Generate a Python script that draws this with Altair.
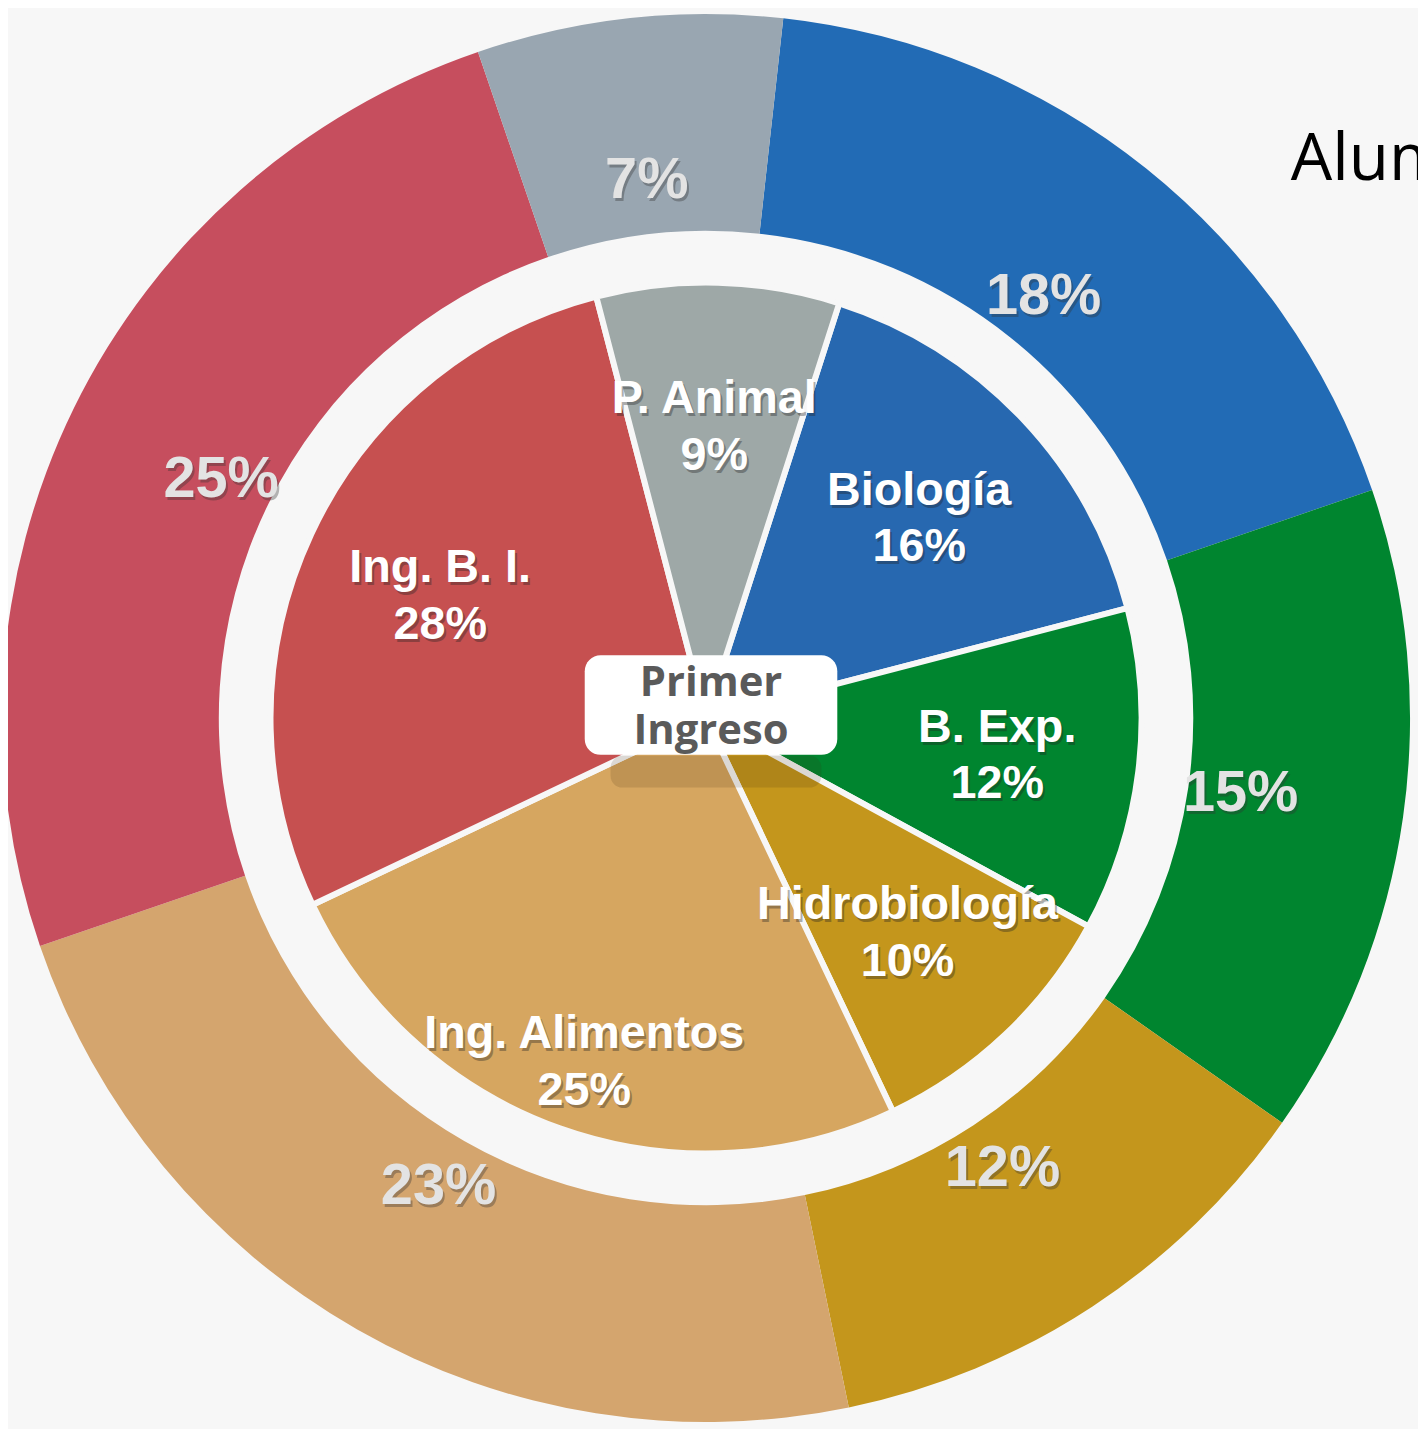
import math
import altair as alt
import pandas as pd

# ---- data -------------------------------------------------------------
carreras = ["Biología", "B. Exp.", "Hidrobiología", "Ing. Alimentos", "Ing. B. I.", "P. Animal"]
externo_pct = [18, 15, 12, 23, 25, 7]      # outer ring
interno_pct = [16, 12, 10, 25, 28, 9]      # inner pie (Primer Ingreso)
colores_externo = ["#226bb5", "#00852f", "#c4961c", "#d4a56e", "#c64e5e", "#99a6b1"]
colores_interno = ["#2768b0", "#00852f", "#c4961c", "#d6a660", "#c65050", "#9ea8a7"]
titulo = "Alumnos"
centro = "Primer\nIngreso"

W, H = 1418, 1421
CX, CY = 702, 710
BG = "#f7f7f7"

ext = pd.DataFrame({"carrera": carreras, "pct": externo_pct, "orden": list(range(len(carreras)))})
ext["etiqueta"] = ext["pct"].astype(str) + "%"
inn = pd.DataFrame({"carrera": carreras, "pct": interno_pct, "orden": list(range(len(carreras)))})
inn["etiqueta"] = inn["carrera"] + "\n" + inn["pct"].astype(str) + "%"

s_ext = math.radians(6.3)
s_inn = math.radians(17.8)


def tscale(start):
    return alt.Scale(domain=[0, 100], range=[start, start + 2 * math.pi])


def ring(df, start, colors):
    return alt.Chart(df).encode(
        theta=alt.Theta("pct:Q", stack=True, scale=tscale(start)),
        order=alt.Order("orden:Q"),
        x=alt.value(CX), y=alt.value(CY),
    ), alt.Color("carrera:N", scale=alt.Scale(domain=carreras, range=colors), legend=None)


base_e, color_e = ring(ext, s_ext, colores_externo)
outer_arc = base_e.mark_arc(outerRadius=708, innerRadius=490).encode(color=color_e)
outer_shadow = base_e.mark_text(radius=543, fontSize=58, fontWeight="bold", font="Liberation Sans",
                                color="#333333", opacity=0.35, dx=2, dy=3).encode(text="etiqueta:N")
outer_text = base_e.mark_text(radius=543, fontSize=58, fontWeight="bold", font="Liberation Sans",
                              color="#e3e3e3").encode(text="etiqueta:N")
outer_layer = alt.layer(outer_arc, outer_shadow, outer_text)

base_i, color_i = ring(inn, s_inn, colores_interno)
inner_arc = base_i.mark_arc(outerRadius=438, stroke=BG, strokeWidth=6).encode(color=color_i)


def inner_text(shadow):
    props = dict(fontSize=47, fontWeight="bold", font="Liberation Sans",
                 lineBreak="\n", lineHeight=57, dy=-26)
    if shadow:
        props.update(color="#222222", opacity=0.35, dx=2, dy=-23)
    else:
        props.update(color="white")
    return alt.Chart(inn).transform_window(
        acum="sum(pct)", sort=[alt.SortField("orden")], frame=[None, 0]
    ).transform_calculate(
        medio="datum.acum - datum.pct / 2",
        r="datum.carrera == 'Ing. Alimentos' ? 365 : 295",
    ).mark_text(**props).encode(
        theta=alt.Theta("medio:Q", stack=None, scale=tscale(s_inn)),
        radius=alt.Radius("r:Q", scale=None),
        text="etiqueta:N",
        x=alt.value(CX), y=alt.value(CY),
    )


inner_layer = alt.layer(inner_arc, inner_text(True), inner_text(False))

one = pd.DataFrame({"k": [0]})
box_shadow = alt.Chart(one).mark_rect(color="#3a2a10", opacity=0.15, cornerRadius=12).encode(
    x=alt.value(606), x2=alt.value(818), y=alt.value(748), y2=alt.value(780))
box = alt.Chart(one).mark_rect(color="white", cornerRadius=16).encode(
    x=alt.value(580), x2=alt.value(834), y=alt.value(647), y2=alt.value(747))
box_text = alt.Chart(one).mark_text(text=centro, lineBreak="\n", lineHeight=48, fontSize=42,
                                    fontWeight="bold", font="Open Sans", color="#5a5a5a").encode(
    x=alt.value(707), y=alt.value(675))
title = alt.Chart(one).mark_text(text=titulo, fontSize=66, font="Open Sans", color="black",
                                 align="left", baseline="alphabetic").encode(
    x=alt.value(1290), y=alt.value(169))

chart = alt.layer(outer_layer, inner_layer, box_shadow, box, box_text, title).resolve_scale(
    theta="independent", color="independent"
).properties(
    width=W, height=H, padding=0, autosize=alt.AutoSizeParams(type="none"), background=BG
).configure_view(stroke=None)

chart.save("out.html", embed_options={"renderer": "svg", "actions": False})
